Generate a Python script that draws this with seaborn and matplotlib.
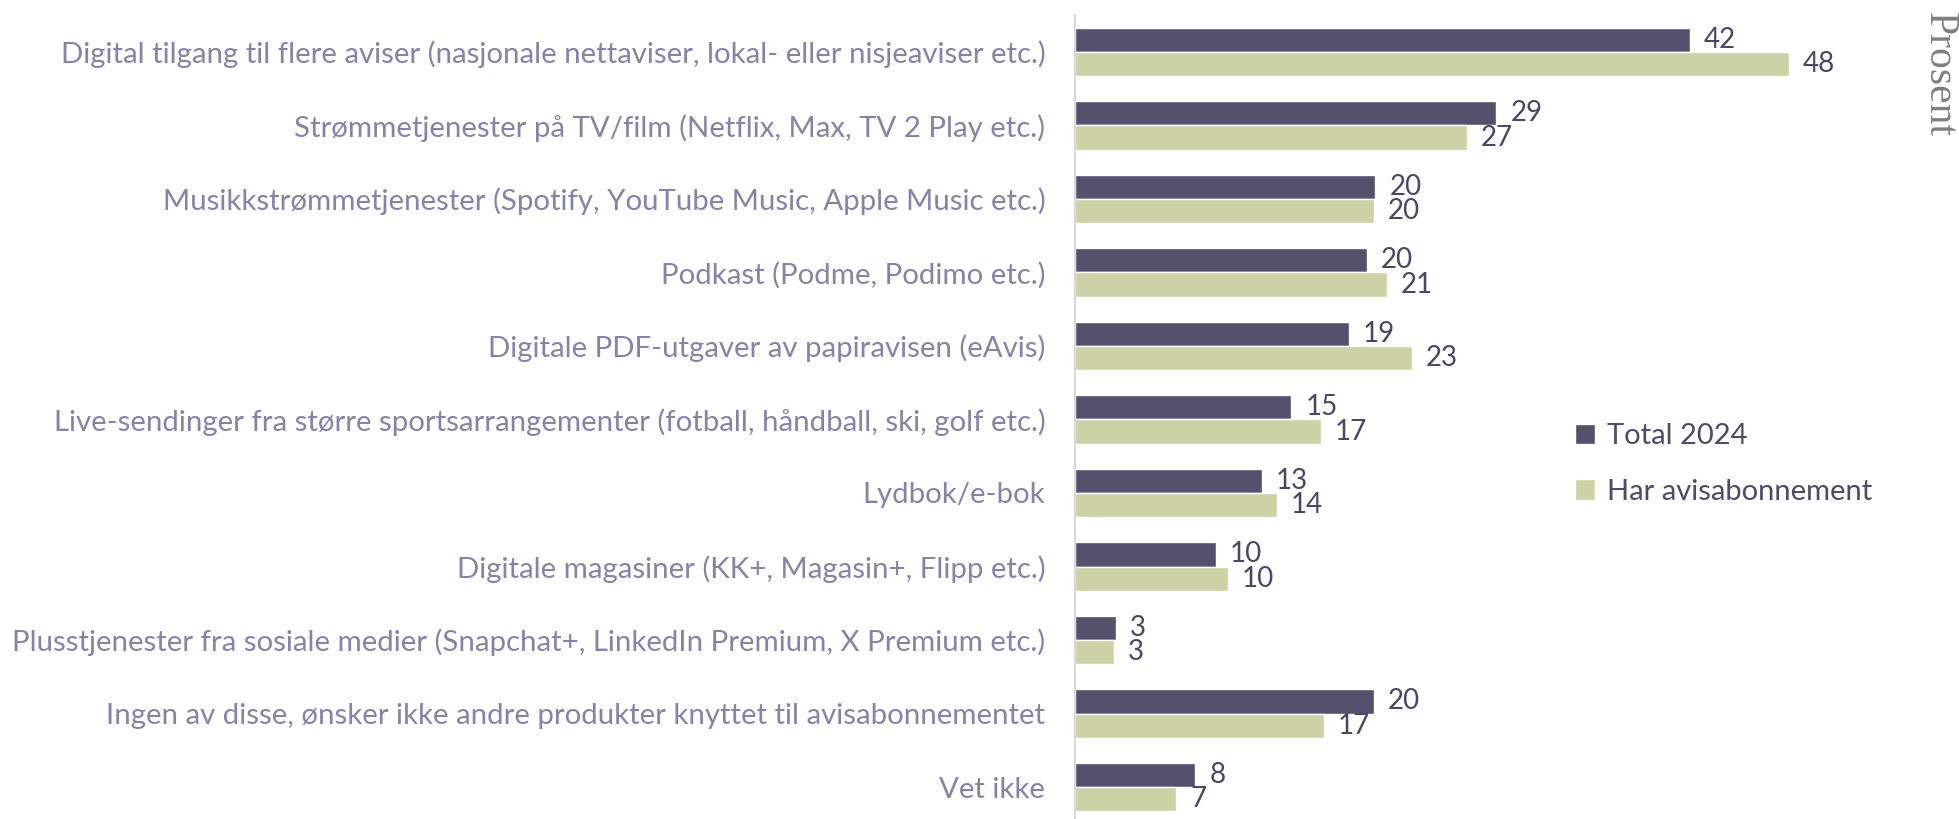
import numpy as np
import pandas as pd
import matplotlib
matplotlib.use("Agg")
import matplotlib.pyplot as plt
import seaborn as sns

categories = [
    "Digital tilgang til flere aviser (nasjonale nettaviser, lokal- eller nisjeaviser etc.)",
    "Strømmetjenester på TV/film (Netflix, Max, TV 2 Play etc.)",
    "Musikkstrømmetjenester (Spotify, YouTube Music, Apple Music etc.)",
    "Podkast (Podme, Podimo etc.)",
    "Digitale PDF-utgaver av papiravisen (eAvis)",
    "Live-sendinger fra større sportsarrangementer (fotball, håndball, ski, golf etc.)",
    "Lydbok/e-bok",
    "Digitale magasiner (KK+, Magasin+, Flipp etc.)",
    "Plusstjenester fra sosiale medier (Snapchat+, LinkedIn Premium, X Premium etc.)",
    "Ingen av disse, ønsker ikke andre produkter knyttet til avisabonnementet",
    "Vet ikke",
]
# values (labels show them rounded)
total_2024 = [41.7, 28.6, 20.4, 19.8, 18.6, 14.7, 12.7, 9.6, 2.8, 20.3, 8.2]
har_abonnement = [48.4, 26.6, 20.3, 21.2, 22.9, 16.7, 13.7, 10.4, 2.7, 16.9, 6.9]
series = ["Total 2024", "Har avisabonnement"]
colors = ["#54506e", "#ccd2a6"]

df = pd.DataFrame({
    "kategori": categories * 2,
    "verdi": total_2024 + har_abonnement,
    "gruppe": [series[0]] * len(categories) + [series[1]] * len(categories),
})

sns.set_style("white")
plt.rcParams["font.family"] = ["Lato", "DejaVu Sans"]

fig = plt.figure(figsize=(19.59, 8.19), dpi=100)
ax = fig.add_axes([0.5485, 0.0, 0.43, 0.9817])

sns.barplot(data=df, y="kategori", x="verdi", hue="gruppe", order=categories,
            hue_order=series, palette=colors, width=0.66, orient="h",
            saturation=1, ax=ax)

for cont in ax.containers:
    labels = [str(int(b.get_width() + 0.5)) for b in cont]
    ax.bar_label(cont, labels=labels, padding=10, fontsize=20, color="#4a4668")

ax.set_ylim(10.435, -0.503)
ax.set_xlim(0, 57.1)
ax.set_xlabel("")
ax.set_ylabel("")
ax.set_xticks([])
ax.tick_params(axis="y", length=0, pad=21, labelsize=21.2, labelcolor="#8682a8")
for s in ["top", "right", "bottom"]:
    ax.spines[s].set_visible(False)
ax.spines["left"].set_color("#d9d9d9")
ax.spines["left"].set_linewidth(1.5)

leg = ax.legend(loc="upper left", bbox_to_anchor=(0.594, 0.492), frameon=False,
                fontsize=21, handlelength=0.7, handleheight=0.7, borderpad=0,
                borderaxespad=0, handletextpad=0.4, labelspacing=1.0)
for t in leg.get_texts():
    t.set_color("#4f4a6a")

fig.text(0.99, 0.985, "Prosent", rotation=270, ha="center", va="top",
         fontsize=30, color="#808080", family="Liberation Serif")

fig.savefig("out.png", dpi=100)
